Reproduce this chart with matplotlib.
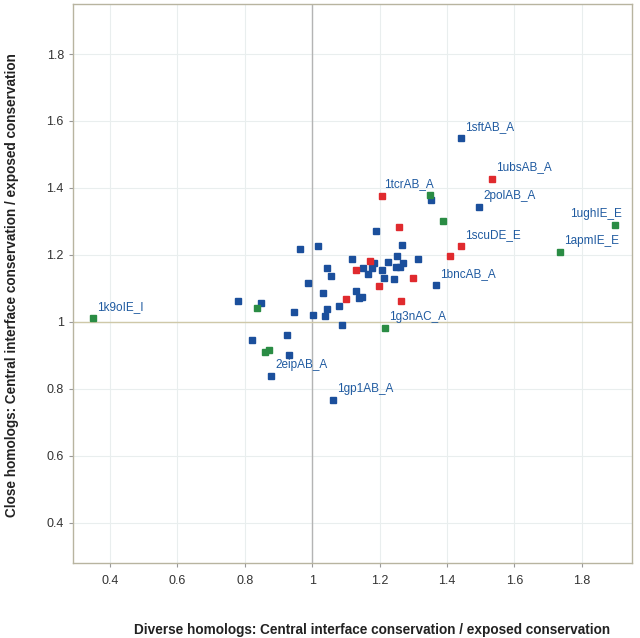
import matplotlib
matplotlib.use("Agg")
import matplotlib.pyplot as plt

plt.rcParams['font.family'] = ['Liberation Sans', 'DejaVu Sans']

# diverse homologs ratio (x) vs close homologs ratio (y), one list per colour group
blue_x = [1.442, 1.496, 1.353, 1.368, 1.188, 1.266, 0.965, 1.017, 1.117, 1.182,
          1.226, 1.253, 1.314, 1.250, 1.262, 1.269, 1.044, 1.151, 1.178, 1.206,
          1.165, 1.055, 1.213, 1.242, 0.988, 1.130, 1.032, 1.138, 1.147, 1.079,
          0.780, 0.847, 0.945, 1.045, 1.002, 1.039, 1.089, 0.924, 0.821, 0.931,
          0.878, 1.063]
blue_y = [1.548, 1.344, 1.365, 1.111, 1.272, 1.228, 1.218, 1.225, 1.189, 1.175,
          1.179, 1.195, 1.188, 1.164, 1.164, 1.176, 1.160, 1.160, 1.160, 1.154,
          1.143, 1.137, 1.131, 1.128, 1.115, 1.092, 1.085, 1.071, 1.075, 1.046,
          1.062, 1.056, 1.029, 1.037, 1.020, 1.017, 0.990, 0.959, 0.945, 0.900,
          0.837, 0.766]

red_x = [1.534, 1.206, 1.257, 1.172, 1.130, 1.299, 1.199, 1.101, 1.263, 1.442, 1.410]
red_y = [1.428, 1.376, 1.282, 1.183, 1.154, 1.131, 1.108, 1.069, 1.062, 1.225, 1.195]

green_x = [1.350, 1.389, 1.899, 1.736, 0.350, 1.217, 0.837, 0.860, 0.873]
green_y = [1.380, 1.300, 1.290, 1.207, 1.012, 0.980, 1.040, 0.909, 0.915]

# labelled complexes and the point each belongs to
label_names = ['1sftAB_A', '1ubsAB_A', '1tcrAB_A', '2polAB_A', '1ughIE_E', '1apmIE_E',
               '1scuDE_E', '1bncAB_A', '1k9oIE_I', '1g3nAC_A', '2eipAB_A', '1gp1AB_A']
label_x = [1.442, 1.534, 1.350, 1.496, 1.899, 1.736, 1.442, 1.368, 0.350, 1.217, 0.878, 1.063]
label_y = [1.548, 1.428, 1.380, 1.344, 1.290, 1.207, 1.225, 1.111, 1.012, 0.980, 0.837, 0.766]

ticks = [0.4, 0.6, 0.8, 1.0, 1.2, 1.4, 1.6, 1.8]
tick_text = ['0.4', '0.6', '0.8', '1', '1.2', '1.4', '1.6', '1.8']

fig = plt.figure(figsize=(6.4, 6.38), dpi=100)
ax = fig.add_axes([0.114, 0.118, 0.874, 0.876])

# light grid, heavier lines through 1
for t in ticks:
    ax.axvline(t, color='#e9eeee', lw=0.8, zorder=0)
    ax.axhline(t, color='#e9eeee', lw=0.8, zorder=0)
ax.axvline(1.0, color='#b4b4b4', lw=1.0, zorder=1)
ax.axhline(1.0, color='#cfc8a8', lw=1.0, zorder=1)

ms = 5
ax.plot(blue_x, blue_y, 's', ms=ms, color='#1b4f9c', mec='#1b4f9c', zorder=3)
ax.plot(red_x, red_y, 's', ms=ms, color='#e02a2e', mec='#e02a2e', zorder=3)
ax.plot(green_x, green_y, 's', ms=ms, color='#2a8c44', mec='#2a8c44', zorder=3)

for name, x, y in zip(label_names, label_x, label_y):
    dx = 4
    if name == '1tcrAB_A':
        dx = -46
    elif name == '1ughIE_E':
        dx = -45
    ax.annotate(name, (x, y), xytext=(dx, 11), textcoords='offset pixels',
                ha='left', va='center', fontsize=8.5, color='#1f5aa0')

ax.set_xlim(0.29, 1.95)
ax.set_ylim(0.28, 1.95)
ax.set_xticks(ticks)
ax.set_xticklabels(tick_text)
ax.set_yticks(ticks)
ax.set_yticklabels(tick_text)
ax.tick_params(axis='both', labelsize=9, colors='#999999', labelcolor='#333333',
               length=3, width=0.8)
ax.tick_params(axis='x', pad=6)

for s in ax.spines.values():
    s.set_color('#b8b4a0')
    s.set_linewidth(1.0)

ax.set_xlabel('Diverse homologs: Central interface conservation / exposed conservation',
              fontsize=9.8, fontweight='bold', color='#222222')
ax.set_ylabel('Close homologs: Central interface conservation / exposed conservation',
              fontsize=9.8, fontweight='bold', color='#222222')
ax.xaxis.set_label_coords(0.535, -0.108)
ax.yaxis.set_label_coords(-0.096, 0.497)

fig.savefig('out.png', dpi=100)
